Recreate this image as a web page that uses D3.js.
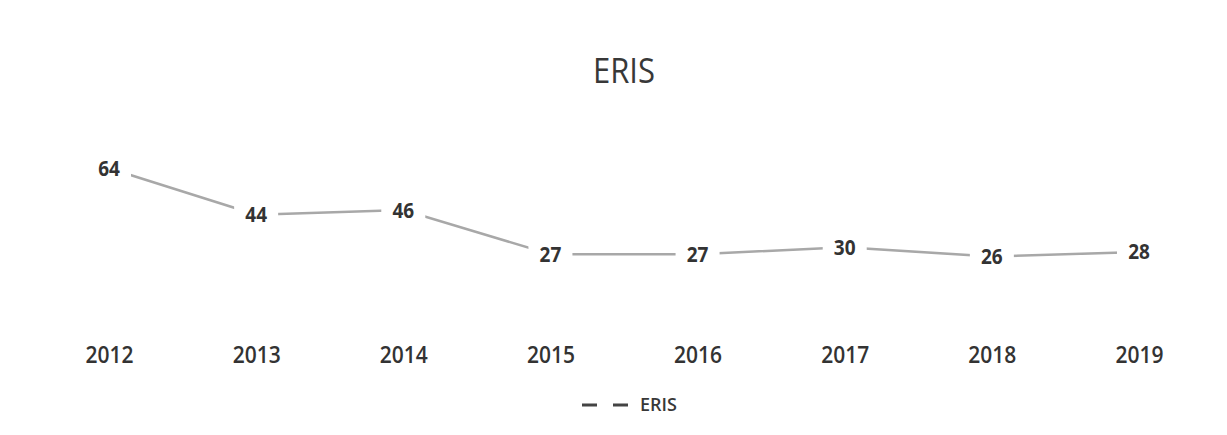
<!DOCTYPE html>
<html><head><meta charset="utf-8">
<script src="https://cdn.jsdelivr.net/npm/d3@7"></script>
<style>body{margin:0;background:#fff}svg{display:block}text{font-family:"Open Sans",sans-serif}</style>
</head><body>
<svg id="c" width="1227" height="435"></svg>
<script>
const years = ["2012","2013","2014","2015","2016","2017","2018","2019"];
const eris = [64,44,46,27,27,30,26,28];
const seriesName = "ERIS";
const titleText = "ERIS";

const svg = d3.select("#c");
const x = d3.scalePoint().domain(years).range([109,1139]);
const y = d3.scaleLinear().domain([0,70]).range([317,154.3]);

svg.append("text").attr("transform","translate(624,83) scale(1,1.12)").attr("text-anchor","middle")
  .attr("font-size",31).attr("fill","#383838").text(titleText);

const data = years.map((yr,i)=>({yr,v:eris[i]}));
svg.append("path").datum(data)
  .attr("fill","none").attr("stroke","#a8a8a8").attr("stroke-width",2.5)
  .attr("d", d3.line().x(d=>x(d.yr)).y(d=>y(d.v)));

const lab = svg.append("g").selectAll("g").data(data).join("g")
  .attr("transform", d=>`translate(${x(d.yr)},${y(d.v)})`);
lab.append("rect").attr("x",-22).attr("y",-14).attr("width",44).attr("height",28).attr("fill","#fff");
lab.append("text").attr("text-anchor","middle").attr("dy","0.36em").attr("transform","scale(1,1.1)")
  .attr("font-size",19).attr("font-weight",700).attr("fill","#333").text(d=>d.v);

const ax = svg.append("g").attr("transform","translate(0,346)")
  .call(d3.axisBottom(x).tickSize(0).tickPadding(0));
ax.select(".domain").remove();
ax.selectAll("text").attr("font-size",21).attr("font-family","Open Sans").attr("font-weight",600)
  .attr("fill","#333").attr("dy","0.71em").attr("y",0).attr("transform","scale(1,1.12)");

const lg = svg.append("g").attr("transform","translate(0,405)");
lg.append("line").attr("x1",582).attr("x2",637).attr("y1",0).attr("y2",0)
  .attr("stroke","#444").attr("stroke-width",3).attr("stroke-dasharray","15,16");
lg.append("text").attr("x",640).attr("dy","0.36em").attr("font-size",18).attr("font-weight",600).attr("fill","#383838").text(seriesName);
</script>
</body></html>
